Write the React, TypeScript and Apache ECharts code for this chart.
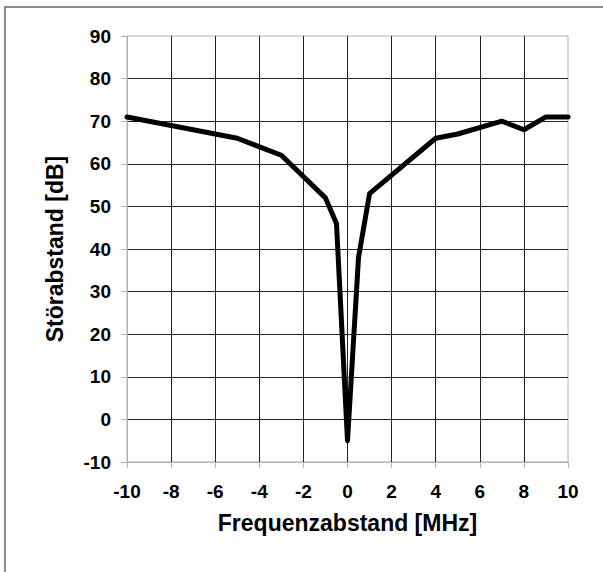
import React, { useEffect, useRef } from "react";
import * as echarts from "echarts";

const freqOffsets = [-10, -5, -3, -1, -0.5, 0, 0.5, 1, 4, 5, 7, 8, 9, 10];
const snrValues = [71, 66, 62, 52, 46, -5, 38, 53, 66, 67, 70, 68, 71, 71];
const xTitle = "Frequenzabstand [MHz]";
const yTitle = "Störabstand [dB]";

export default function App() {
  const ref = useRef<HTMLDivElement>(null);
  useEffect(() => {
    const chart = echarts.init(ref.current!, null, { renderer: "svg" });
    const font = "'Liberation Sans', Arial, sans-serif";
    chart.setOption({
      animation: false,
      backgroundColor: "#fff",
      graphic: [
        {
          type: "rect",
          shape: { x: 5, y: 7, width: 800, height: 800 },
          style: { fill: "none", stroke: "#8a8a8a", lineWidth: 2 },
          silent: true,
        },
      ],
      grid: {
        left: 127,
        right: 35,
        top: 36,
        bottom: 110,
        show: true,
        borderColor: "#b0b0b0",
        borderWidth: 1,
      },
      xAxis: {
        type: "value",
        min: -10,
        max: 10,
        interval: 2,
        name: xTitle,
        nameLocation: "middle",
        nameGap: 49,
        nameTextStyle: { fontFamily: font, fontWeight: "bold", fontSize: 23, color: "#000" },
        axisLine: { show: true, onZero: false, lineStyle: { color: "#b0b0b0", width: 1 } },
        axisTick: { show: true, inside: false, length: 6, lineStyle: { color: "#b0b0b0" } },
        axisLabel: { fontFamily: font, fontWeight: "bold", fontSize: 19, color: "#000", margin: 20 },
        splitLine: { show: true, showMinLine: false, showMaxLine: false, lineStyle: { color: "#222", width: 1 } },
      },
      yAxis: {
        type: "value",
        min: -10,
        max: 90,
        interval: 10,
        name: yTitle,
        nameLocation: "middle",
        nameRotate: 90,
        nameGap: 61,
        nameTextStyle: { fontFamily: font, fontWeight: "bold", fontSize: 23, color: "#000" },
        axisLine: { show: true, onZero: false, lineStyle: { color: "#b0b0b0", width: 1 } },
        axisTick: { show: true, inside: false, length: 6, lineStyle: { color: "#b0b0b0" } },
        axisLabel: { fontFamily: font, fontWeight: "bold", fontSize: 19, color: "#000", margin: 16 },
        splitLine: { show: true, showMinLine: false, showMaxLine: false, lineStyle: { color: "#222", width: 1 } },
      },
      series: [
        {
          type: "line",
          data: freqOffsets.map((x, i) => [x, snrValues[i]]),
          showSymbol: false,
          symbol: "none",
          lineStyle: { color: "#000", width: 5, join: "round", cap: "round" },
        },
      ],
    });
    return () => chart.dispose();
  }, []);
  return (
    <div
      ref={ref}
      style={{ position: "fixed", left: 0, top: 0, width: 603, height: 572 }}
    />
  );
}
